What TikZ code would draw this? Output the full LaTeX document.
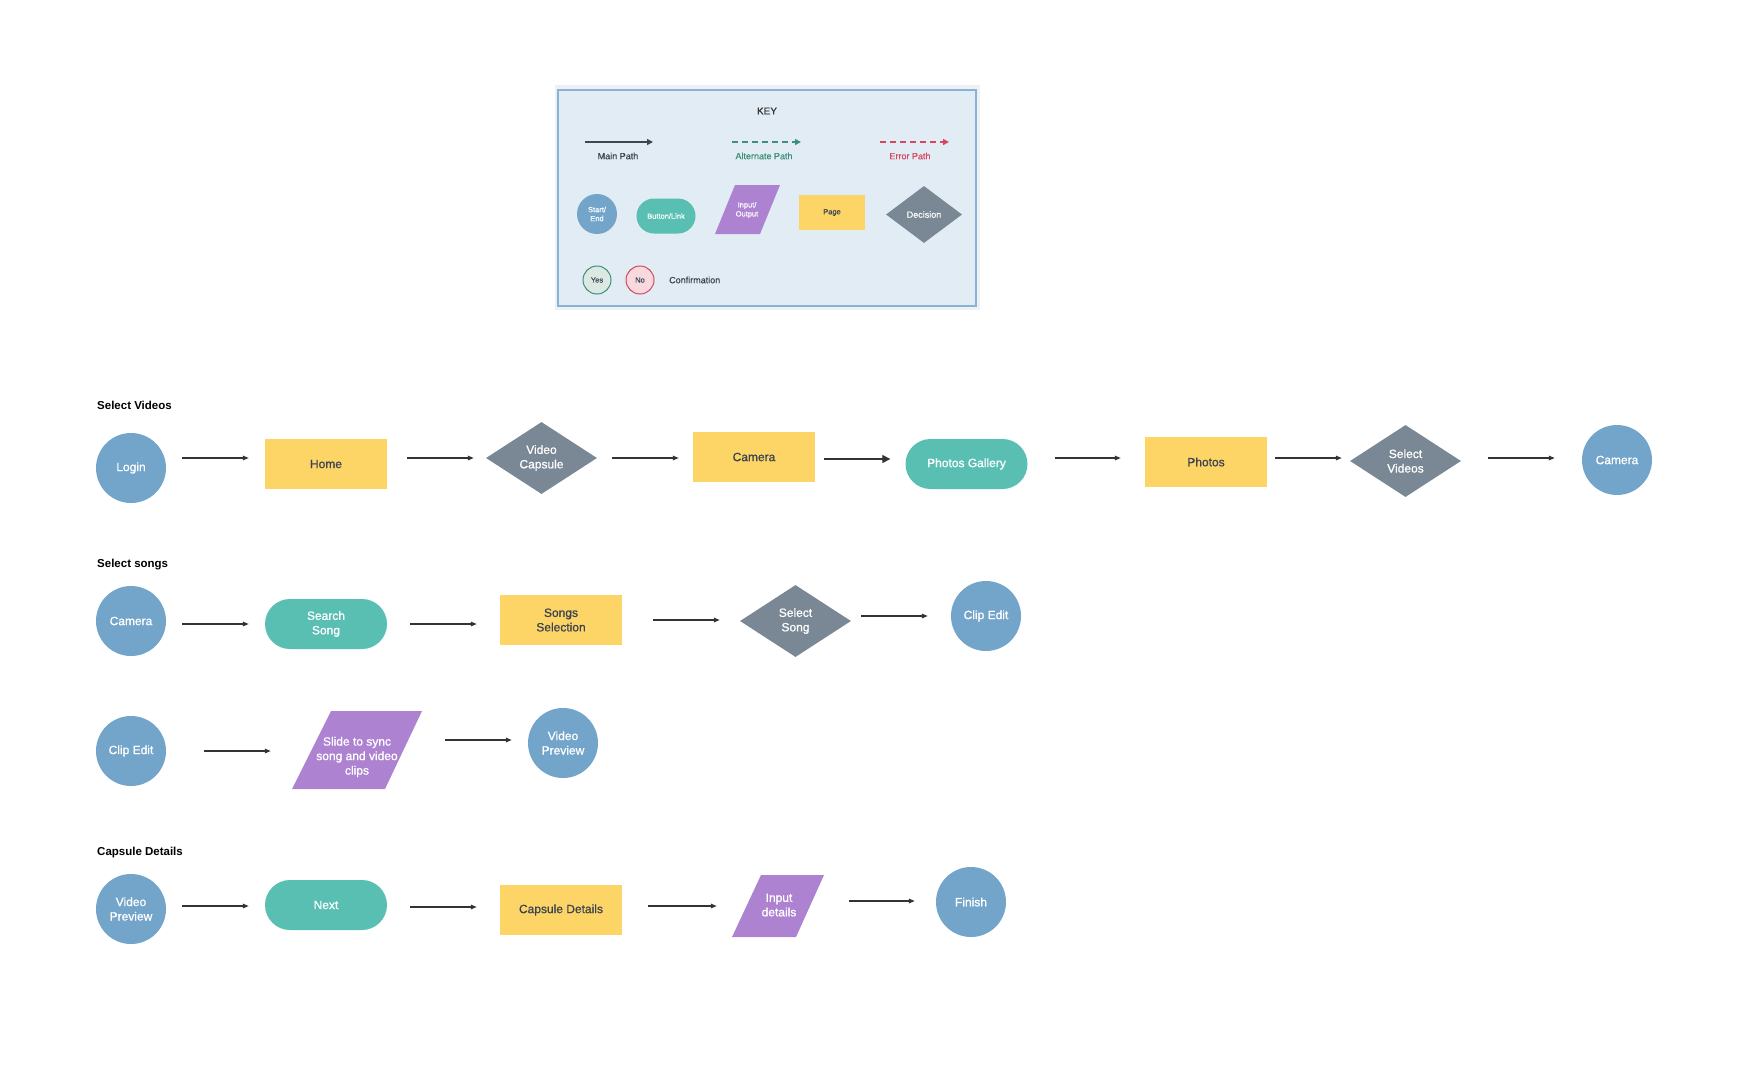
\documentclass[tikz,border=0pt]{standalone}
\usepackage{fontspec}
\setmainfont{Liberation Sans}
\newfontfamily\medfont{Liberation Sans}[FakeBold=0.9]
\newfontfamily\keyfont{Liberation Sans}[FakeBold=0.4]
\usetikzlibrary{arrows.meta,shapes.geometric}
\definecolor{cblue}{HTML}{73A4CA}
\definecolor{cyellow}{HTML}{FDD567}
\definecolor{cteal}{HTML}{59BFB2}
\definecolor{cpurple}{HTML}{AD83D1}
\definecolor{cgray}{HTML}{798894}
\definecolor{ctext}{HTML}{3C4350}
\definecolor{keybg}{HTML}{E2ECF4}
\definecolor{keyborder}{HTML}{8AB1D6}
\definecolor{keyouter}{HTML}{EEF1F4}
\definecolor{cgreen}{HTML}{3C8F78}
\definecolor{cred}{HTML}{D8475E}
\definecolor{arrowc}{HTML}{333333}
\definecolor{mainc}{HTML}{3D4752}
\definecolor{yesfill}{HTML}{DCE9E3}
\definecolor{nofill}{HTML}{F7D9DE}
\begin{document}
\begin{tikzpicture}[x=1pt,y=-1pt,
  txt/.style={font=\medfont\fontsize{12}{14.5}\selectfont, align=center, inner sep=0pt, text=white},
  startend/.style={txt, circle, fill=cblue, minimum size=70pt},
  pagebox/.style={txt, rectangle, fill=cyellow, text=ctext, minimum width=122pt, minimum height=50pt},
  button/.style={txt, rectangle, rounded corners=25pt, fill=cteal, minimum width=122pt, minimum height=50pt},
  decision/.style={diamond, fill=cgray, inner sep=0pt, minimum width=111pt, minimum height=72pt},
  iobox/.style={txt, rectangle},
  arr/.style={draw=arrowc, line width=1.3pt, -{Triangle[length=6pt,width=4.5pt]}},
  bigarr/.style={draw=arrowc, line width=1.3pt, -{Triangle[length=8pt,width=8pt]}},
  section/.style={font=\fontsize{11.5}{14}\selectfont\bfseries, anchor=west, inner sep=0pt, text=black},
  keytxt/.style={font=\keyfont\fontsize{9}{10.5}\selectfont, inner sep=0pt, align=center},
  keyshape/.style={font=\keyfont\fontsize{7.5}{9}\selectfont, inner sep=0pt, align=center, text=white},
]
\useasboundingbox[fill=white] (0,0) rectangle (1753,1079);

% ---------------- KEY ----------------
\fill[keyouter] (555,85) rectangle (980,310);
\draw[keyborder, fill=keybg, line width=1.2pt] (558,90) rectangle (976,306);
\node[keytxt, font=\keyfont\fontsize{10}{12}\selectfont, text=arrowc] (keytitle) at (767,111) {KEY};
\coordinate (mp1) at (585,142); \coordinate (mp2) at (653,142);
\coordinate (ap1) at (732,142); \coordinate (ap2) at (801,142);
\coordinate (ep1) at (880,142); \coordinate (ep2) at (949,142);
\draw[draw=mainc, line width=2pt, -{Triangle[length=6pt,width=6pt]}] (mp1) -- (mp2);
\draw[draw=cgreen, line width=2pt, dash pattern=on 6pt off 4pt, -{Triangle[length=6pt,width=6pt]}] (ap1) -- (ap2);
\draw[draw=cred, line width=2pt, dash pattern=on 6pt off 4pt, -{Triangle[length=6pt,width=6pt]}] (ep1) -- (ep2);
\node[keytxt, text=ctext] (mplbl) at (618,156) {Main Path};
\node[keytxt, text=cgreen] (aplbl) at (764,156) {Alternate Path};
\node[keytxt, text=cred] (eplbl) at (910,156) {Error Path};
\node[keyshape, circle, fill=cblue, minimum size=40pt] (kse) at (597,214) {Start/\\End};
\node[keyshape, rectangle, rounded corners=17.5pt, fill=cteal, minimum width=59pt, minimum height=35pt] (kbtn) at (666,216) {Button/Link};
\fill[cpurple] (735,185) -- (780,185) -- (760,234) -- (715,234) -- cycle;
\node[keyshape] (kio) at (747,210) {Input/\\Output};
\node[keyshape, rectangle, fill=cyellow, text=ctext, minimum width=66pt, minimum height=35pt] (kpage) at (832,212.5) {Page};
\node[diamond, fill=cgray, inner sep=0pt, minimum width=76pt, minimum height=57pt,
      label={[keyshape, font=\keyfont\fontsize{9}{10.5}\selectfont]center:Decision}] (kdec) at (924,214.5) {};
\node[keyshape, circle, draw=cgreen, line width=1pt, fill=yesfill, text=ctext, minimum size=28pt] (kyes) at (597,280) {Yes};
\node[keyshape, circle, draw=cred, line width=1pt, fill=nofill, text=ctext, minimum size=28pt] (kno) at (640,280) {No};
\node[keytxt, text=ctext, anchor=west] (kconf) at (669,280) {Confirmation};

% ---------------- Row 1: Select Videos ----------------
\node[section] (sec1) at (97,405) {Select Videos};
\node[startend] (login) at (131,468) {Login};
\node[pagebox] (home) at (326,464) {Home};
\node[decision, label={[txt]center:Video\\Capsule}] (vcap) at (541.5,458) {};
\node[pagebox] (cam1) at (754,457) {Camera};
\node[button] (pgal) at (966.5,464) {Photos Gallery};
\node[pagebox] (photos) at (1206,462) {Photos};
\node[decision, label={[txt]center:Select\\Videos}] (selvid) at (1405.5,461) {};
\node[startend] (cam2) at (1617,460) {Camera};
\coordinate (y1) at (0,458);
\coordinate (y1b) at (0,459);
\draw[arr, shorten <=16pt, shorten >=16pt] (login.east |- y1) -- (home.west |- y1);
\draw[arr, shorten <=20pt, shorten >=12pt] (home.east |- y1) -- (vcap.west |- y1);
\draw[arr, shorten <=15pt, shorten >=14pt] (vcap.east |- y1) -- (cam1.west |- y1);
\draw[bigarr, shorten <=9pt, shorten >=15pt] (cam1.east |- y1b) -- (pgal.west |- y1b);
\draw[arr, shorten <=27pt, shorten >=24pt] (pgal.east |- y1) -- (photos.west |- y1);
\draw[arr, shorten <=8pt, shorten >=8pt] (photos.east |- y1) -- (selvid.west |- y1);
\draw[arr, shorten <=27pt, shorten >=27pt] (selvid.east |- y1) -- (cam2.west |- y1);

% ---------------- Row 2: Select songs ----------------
\node[section] (sec2) at (97,565) {Select songs};
\node[startend] (cam3) at (131,621) {Camera};
\node[button] (search) at (326,624) {Search\\Song};
\node[pagebox] (songsel) at (561,620) {Songs\\Selection};
\node[decision, label={[txt]center:Select\\Song}] (selsong) at (795.5,621) {};
\node[startend] (clip1) at (986,616) {Clip Edit};
\coordinate (y2a) at (0,624);
\coordinate (y2b) at (0,620);
\coordinate (y2c) at (0,616);
\draw[arr, shorten <=16pt, shorten >=16pt] (cam3.east |- y2a) -- (search.west |- y2a);
\draw[arr, shorten <=23pt, shorten >=23pt] (search.east |- y2a) -- (songsel.west |- y2a);
\draw[arr, shorten <=31pt, shorten >=20pt] (songsel.east |- y2b) -- (selsong.west |- y2b);
\draw[arr, shorten <=10pt, shorten >=23pt] (selsong.east |- y2c) -- (clip1.west |- y2c);

% ---------------- Row 3 ----------------
\node[startend] (clip2) at (131,751) {Clip Edit};
\fill[cpurple] (331,711) -- (422,711) -- (385,789) -- (292,789) -- cycle;
\node[iobox, minimum width=130pt, minimum height=78pt] (sync) at (357,757) {Slide to sync\\song and video\\clips};
\node[startend] (vprev1) at (563,743) {Video\\Preview};
\coordinate (y3a) at (0,751);
\coordinate (y3b) at (0,740);
\draw[arr, shorten <=38pt, shorten >=21pt] (clip2.east |- y3a) -- (sync.west |- y3a);
\draw[arr, shorten <=23pt, shorten >=16pt] (sync.east |- y3b) -- (vprev1.west |- y3b);

% ---------------- Row 4: Capsule Details ----------------
\node[section] (sec4) at (97,853) {Capsule Details};
\node[startend] (vprev2) at (131,909) {Video\\Preview};
\node[button] (next) at (326,905) {Next};
\node[pagebox] (capdet) at (561,910) {Capsule Details};
\fill[cpurple] (761,875) -- (824,875) -- (796,937) -- (732,937) -- cycle;
\node[iobox, minimum width=92pt, minimum height=62pt] (inpdet) at (779,905) {Input\\details};
\node[startend] (finish) at (971,902) {Finish};
\coordinate (y4a) at (0,906);
\coordinate (y4b) at (0,907);
\coordinate (y4c) at (0,901);
\draw[arr, shorten <=16pt, shorten >=16pt] (vprev2.east |- y4a) -- (next.west |- y4a);
\draw[arr, shorten <=23pt, shorten >=23pt] (next.east |- y4b) -- (capdet.west |- y4b);
\draw[arr, shorten <=26pt, shorten >=16pt] (capdet.east |- y4a) -- (inpdet.west |- y4a);
\draw[arr, shorten <=24pt, shorten >=21pt] (inpdet.east |- y4c) -- (finish.west |- y4c);
\end{tikzpicture}
\end{document}
